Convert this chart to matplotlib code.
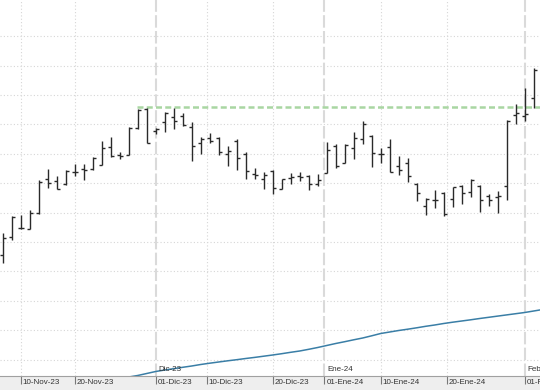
import matplotlib
matplotlib.use('agg')
import matplotlib.pyplot as plt
import numpy as np
import pandas as pd

# trading days (holidays: 25/26 Dec, 1 Jan)
dates = pd.bdate_range('2023-11-08', '2024-02-05', freq='C',
                       holidays=['2023-12-25', '2023-12-26', '2024-01-01'])

opens = [14.5, 16.35, 17.25, 17.1, 18.7, 22.1, 21.9, 21.6, 22.85, 23.1,
         23.1, 23.5, 25.3, 24.5, 24.55, 27.2, 29.07, 26.9, 27.8, 28.3,
         28.45, 27.3, 25.7, 26.2, 26.2, 24.6, 25.95, 24.6, 22.65, 22.1,
         22.9, 21.1, 22.2, 22.4, 22.4, 21.6, 22.75, 25.43, 23.73, 25.17,
         26.15, 26.43, 24.6, 25.33, 23.4, 23.67, 21.57, 19.4, 20.0, 20.7,
         20.07, 21.43, 20.77, 21.43, 20.4, 20.3, 21.4, 28.5, 28.4, 30.17, 33.2]
highs = [16.67, 18.4, 18.5, 19.0, 22.0, 23.1, 22.45, 23.0, 23.6, 23.65,
         24.35, 25.95, 26.35, 24.8, 27.3, 29.1, 29.17, 27.2, 28.8, 29.2,
         28.7, 27.8, 26.35, 26.67, 26.3, 25.45, 26.15, 24.8, 23.17, 22.8,
         23.0, 22.15, 22.75, 22.83, 22.5, 22.6, 25.83, 25.57, 25.6, 26.77,
         27.9, 26.5, 25.17, 26.1, 24.37, 24.2, 21.67, 20.2, 21.0, 20.77,
         21.33, 21.5, 22.07, 21.5, 20.57, 20.9, 28.0, 29.57, 31.17, 33.23, 34.0]
lows = [13.7, 16.0, 17.13, 17.07, 18.65, 21.25, 21.1, 21.55, 22.4, 22.0,
        23.05, 23.5, 24.3, 24.1, 24.5, 27.15, 25.67, 26.65, 26.85, 27.15,
        27.45, 23.9, 24.6, 25.67, 24.5, 23.43, 23.0, 22.13, 22.1, 21.15,
        20.6, 21.07, 21.6, 21.9, 21.03, 21.45, 22.73, 23.2, 23.67, 24.07,
        25.6, 23.33, 23.75, 22.77, 22.5, 21.8, 19.9, 18.55, 19.23, 18.4,
        19.33, 19.6, 20.27, 18.83, 19.43, 18.67, 20.0, 27.6, 27.9, 29.17, 32.0]
closes = [16.17, 18.3, 17.17, 18.7, 21.85, 21.7, 21.15, 22.95, 22.8, 23.05,
          24.2, 25.2, 24.4, 24.4, 27.25, 29.0, 25.73, 27.1, 28.7, 27.95,
          27.5, 25.4, 26.15, 25.95, 24.83, 24.95, 24.2, 22.9, 22.47, 22.55,
          21.17, 22.07, 22.3, 22.35, 21.57, 22.03, 25.0, 23.37, 25.47, 26.23,
          27.6, 24.75, 24.58, 22.8, 23.0, 22.43, 20.75, 20.1, 20.05, 18.65,
          21.27, 20.67, 22.0, 20.0, 20.0, 20.4, 27.93, 28.73, 28.6, 32.97, 33.4]

# long moving average (starts at bar 14)
ma_start = 14
ma = [2.3, 2.45, 2.65, 2.85, 3.0, 3.13, 3.27, 3.4, 3.55, 3.68,
      3.8, 3.92, 4.03, 4.15, 4.26, 4.38, 4.5, 4.63, 4.77, 4.9,
      5.07, 5.25, 5.45, 5.65, 5.83, 6.02, 6.2, 6.42, 6.65, 6.8,
      6.95, 7.08, 7.22, 7.37, 7.5, 7.65, 7.78, 7.9, 8.02, 8.15,
      8.27, 8.39, 8.51, 8.63, 8.75, 8.9, 9.05]

resistance = 29.3
resistance_from = 14.9

day_ticks = ['2023-11-10', '2023-11-20', '2023-12-01', '2023-12-10', '2023-12-20',
             '2024-01-01', '2024-01-10', '2024-01-20', '2024-02-01']
day_labels = ['10-Nov-23', '20-Nov-23', '01-Dic-23', '10-Dic-23', '20-Dic-23',
              '01-Ene-24', '10-Ene-24', '20-Ene-24', '01-Feb-24']
month_ticks = ['2023-12-01', '2024-01-01', '2024-02-01']
month_labels = ['Dic-23', 'Ene-24', 'Feb-24']

idx = np.arange(len(dates))
day_num = dates.values.astype('datetime64[D]').astype(float)
def pos(d):
    return np.interp(np.datetime64(d, 'D').astype(float), day_num, idx)

fig = plt.figure(figsize=[5.4, 3.9], dpi=100, facecolor='#eeeeee')
ax = fig.add_axes([0, 14/390, 1, 376/390])
ax.set_facecolor('white')
ax.set_xlim(-0.3, 59.7)
ax.set_ylim(2.4, 40)

# grid
for g in np.arange(4.04, 37, 2.94):
    ax.axhline(g, color='#d6d6d6', lw=0.8, ls=(0, (1, 2)), zorder=0)
month_pos = [pos(d) for d in month_ticks]
for d in day_ticks:
    if d in month_ticks:
        continue
    ax.axvline(pos(d), color='#d6d6d6', lw=0.8, ls=(0, (1, 2)), zorder=0)
for p, lab in zip(month_pos, month_labels):
    ax.axvline(p, color='#dadada', lw=1.5, ls=(0, (6, 1.6)), zorder=0, clip_on=False)
    ax.annotate(lab, (p, 0), xycoords=('data', 'axes fraction'), xytext=(2, 2),
                textcoords='offset points', fontsize=5.8, family='Liberation Sans',
                color='#333333', va='bottom', ha='left')

# ohlc bars
w = 0.33
ax.vlines(idx, lows, highs, color='#2a2a2a', lw=1.0, zorder=3)
ax.hlines(opens, idx - w, idx, color='#2a2a2a', lw=1.0, zorder=3)
ax.hlines(closes, idx, idx + w, color='#2a2a2a', lw=1.0, zorder=3)

ax.plot(idx[ma_start:ma_start + len(ma)], ma, color='#3a7ea6', lw=1.1, zorder=2)
ax.plot([resistance_from, 61], [resistance, resistance], color='#a9d6a2', lw=1.8,
        dashes=(2.4, 1.3), zorder=2)

for s in ['top', 'right', 'left']:
    ax.spines[s].set_visible(False)
ax.spines['bottom'].set_color('#a0a0a0')
ax.set_yticks([])
ax.set_xticks([pos(d) for d in day_ticks])
ax.set_xticklabels([])
ax.tick_params(axis='x', direction='out', length=6, color='#777777', width=0.8)
for d, lab in zip(day_ticks, day_labels):
    ax.annotate(lab, (pos(d), 0), xycoords=('data', 'axes fraction'), xytext=(1.5, -2.5),
                textcoords='offset points', fontsize=5.8, family='Liberation Sans',
                color='#333333', va='top', ha='left', annotation_clip=False)

fig.savefig('out.png', dpi=100, facecolor=fig.get_facecolor())
